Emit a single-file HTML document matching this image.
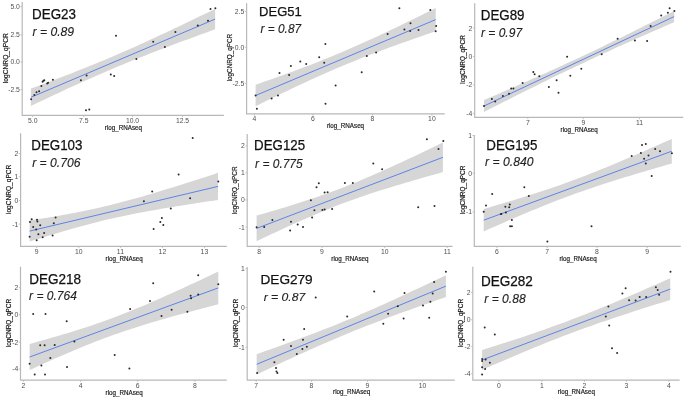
<!DOCTYPE html>
<html><head><meta charset="utf-8"><title>DEG scatter plots</title>
<style>
html,body{margin:0;padding:0;background:#fff;}
body{width:685px;height:397px;overflow:hidden;}
svg{display:block;filter:blur(0.3px);}
text{font-family:"Liberation Sans",sans-serif;}
.tk{font-size:6.8px;fill:#505050;}
.lb{font-size:6.4px;fill:#1a1a1a;stroke:#1a1a1a;stroke-width:0.18px;}
.tt{font-size:13.6px;fill:#111111;stroke:#111111;stroke-width:0.25px;}
.rr{font-size:12.2px;fill:#222222;font-style:italic;stroke:#222222;stroke-width:0.12px;}
circle{fill:#2a2a2a;}
</style></head>
<body><svg width="685" height="397" viewBox="0 0 685 397">
<rect width="685" height="397" fill="#fff"/>
<path d="M30.9,88.6 L35.5,86.9 L40.11,85.19 L44.71,83.47 L49.32,81.74 L53.92,80 L58.53,78.25 L63.13,76.49 L67.74,74.71 L72.34,72.92 L76.95,71.12 L81.55,69.29 L86.16,67.45 L90.76,65.6 L95.37,63.72 L99.97,61.82 L104.58,59.9 L109.19,57.96 L113.79,56 L118.39,54.02 L123,52.02 L127.6,50 L132.21,47.96 L136.81,45.9 L141.42,43.82 L146.03,41.72 L150.63,39.61 L155.23,37.48 L159.84,35.34 L164.44,33.19 L169.05,31.02 L173.66,28.85 L178.26,26.66 L182.86,24.46 L187.47,22.26 L192.08,20.05 L196.68,17.83 L201.28,15.61 L205.89,13.38 L210.49,11.14 L215.1,8.9 L215.1,29.3 L210.49,30.97 L205.89,32.64 L201.28,34.32 L196.68,36.01 L192.08,37.7 L187.47,39.4 L182.86,41.11 L178.26,42.82 L173.66,44.54 L169.05,46.28 L164.44,48.02 L159.84,49.78 L155.23,51.55 L150.63,53.33 L146.03,55.13 L141.42,56.94 L136.81,58.77 L132.21,60.62 L127.6,62.49 L123,64.38 L118.39,66.29 L113.79,68.22 L109.19,70.17 L104.58,72.14 L99.97,74.13 L95.37,76.14 L90.76,78.17 L86.16,80.23 L81.55,82.3 L76.95,84.38 L72.34,86.49 L67.74,88.61 L63.13,90.74 L58.53,92.89 L53.92,95.05 L49.32,97.22 L44.71,99.4 L40.11,101.59 L35.5,103.79 L30.9,106Z" fill="#d6d6d6"/>
<line x1="30.9" y1="97.3" x2="215.1" y2="19.1" stroke="#3f6fee" stroke-width="0.8"/>
<path d="M22.2,2 V115.3 H223.9" fill="none" stroke="#b8b8b8" stroke-width="1.2"/>
<line x1="20.4" y1="6.6" x2="22.2" y2="6.6" stroke="#b8b8b8" stroke-width="0.8"/>
<text x="19.9" y="9.05" text-anchor="end" class="tk">5.0</text>
<line x1="20.4" y1="35" x2="22.2" y2="35" stroke="#b8b8b8" stroke-width="0.8"/>
<text x="19.9" y="37.45" text-anchor="end" class="tk">2.5</text>
<line x1="20.4" y1="62" x2="22.2" y2="62" stroke="#b8b8b8" stroke-width="0.8"/>
<text x="19.9" y="64.45" text-anchor="end" class="tk">0.0</text>
<line x1="20.4" y1="89.6" x2="22.2" y2="89.6" stroke="#b8b8b8" stroke-width="0.8"/>
<text x="19.9" y="92.05" text-anchor="end" class="tk">-2.5</text>
<line x1="32.7" y1="115.3" x2="32.7" y2="117.1" stroke="#b8b8b8" stroke-width="0.8"/>
<text x="32.7" y="122.9" text-anchor="middle" class="tk">5.0</text>
<line x1="83.7" y1="115.3" x2="83.7" y2="117.1" stroke="#b8b8b8" stroke-width="0.8"/>
<text x="83.7" y="122.9" text-anchor="middle" class="tk">7.5</text>
<line x1="132.5" y1="115.3" x2="132.5" y2="117.1" stroke="#b8b8b8" stroke-width="0.8"/>
<text x="132.5" y="122.9" text-anchor="middle" class="tk">10.0</text>
<line x1="182.5" y1="115.3" x2="182.5" y2="117.1" stroke="#b8b8b8" stroke-width="0.8"/>
<text x="182.5" y="122.9" text-anchor="middle" class="tk">12.5</text>
<circle cx="31.1" cy="99.3" r="1.0"/>
<circle cx="34.4" cy="94.9" r="1.0"/>
<circle cx="36.5" cy="92.2" r="1.0"/>
<circle cx="39.1" cy="91.3" r="1.0"/>
<circle cx="41.4" cy="85.9" r="1.0"/>
<circle cx="42.6" cy="81.7" r="1.0"/>
<circle cx="43.5" cy="80.8" r="1.0"/>
<circle cx="44.3" cy="80.2" r="1.0"/>
<circle cx="47.2" cy="83.6" r="1.0"/>
<circle cx="48.1" cy="82.7" r="1.0"/>
<circle cx="52.9" cy="79.8" r="1.0"/>
<circle cx="80.9" cy="80.2" r="1.0"/>
<circle cx="86.6" cy="75.4" r="1.0"/>
<circle cx="86" cy="110.2" r="1.0"/>
<circle cx="89.3" cy="109.5" r="1.0"/>
<circle cx="110.8" cy="74.5" r="1.0"/>
<circle cx="114.2" cy="75.9" r="1.0"/>
<circle cx="116" cy="35.7" r="1.0"/>
<circle cx="136.4" cy="59" r="1.0"/>
<circle cx="153.2" cy="41.8" r="1.0"/>
<circle cx="164.9" cy="46.9" r="1.0"/>
<circle cx="175.4" cy="32" r="1.0"/>
<circle cx="197.8" cy="25.5" r="1.0"/>
<circle cx="208" cy="20.8" r="1.0"/>
<circle cx="210.5" cy="9.1" r="1.0"/>
<circle cx="215.4" cy="8.2" r="1.0"/>
<text x="142" y="130" text-anchor="end" class="lb" textLength="37.2" lengthAdjust="spacingAndGlyphs">rlog_RNAseq</text>
<text transform="translate(7.6,58.2) rotate(-90)" text-anchor="middle" class="lb" textLength="50" lengthAdjust="spacingAndGlyphs">logCNRQ_qPCR</text>
<text x="32.07" y="19.15" class="tt" style="font-size:14.17px" textLength="43.9" lengthAdjust="spacingAndGlyphs">DEG23</text>
<text x="32.6" y="35.5" class="rr" style="font-size:12.2px" textLength="41.5" lengthAdjust="spacingAndGlyphs">r = 0.89</text>
<path d="M255.6,84.75 L260.1,83.18 L264.61,81.6 L269.11,80.01 L273.61,78.41 L278.11,76.8 L282.62,75.18 L287.12,73.55 L291.62,71.9 L296.12,70.24 L300.62,68.56 L305.13,66.86 L309.63,65.14 L314.13,63.4 L318.63,61.64 L323.14,59.85 L327.64,58.04 L332.14,56.2 L336.64,54.34 L341.15,52.45 L345.65,50.53 L350.15,48.58 L354.65,46.61 L359.16,44.62 L363.66,42.6 L368.16,40.55 L372.66,38.49 L377.17,36.4 L381.67,34.29 L386.17,32.17 L390.67,30.03 L395.18,27.88 L399.68,25.71 L404.18,23.53 L408.68,21.34 L413.19,19.14 L417.69,16.92 L422.19,14.7 L426.69,12.48 L431.2,10.24 L435.7,8 L435.7,31.2 L431.2,32.75 L426.69,34.31 L422.19,35.88 L417.69,37.46 L413.19,39.04 L408.68,40.63 L404.18,42.24 L399.68,43.85 L395.18,45.48 L390.67,47.12 L386.17,48.77 L381.67,50.45 L377.17,52.14 L372.66,53.84 L368.16,55.57 L363.66,57.32 L359.16,59.1 L354.65,60.9 L350.15,62.72 L345.65,64.57 L341.15,66.45 L336.64,68.35 L332.14,70.28 L327.64,72.24 L323.14,74.22 L318.63,76.23 L314.13,78.27 L309.63,80.32 L305.13,82.4 L300.62,84.49 L296.12,86.61 L291.62,88.74 L287.12,90.89 L282.62,93.05 L278.11,95.22 L273.61,97.41 L269.11,99.6 L264.61,101.81 L260.1,104.03 L255.6,106.25Z" fill="#d6d6d6"/>
<line x1="255.6" y1="95.5" x2="435.7" y2="19.6" stroke="#3f6fee" stroke-width="0.8"/>
<path d="M246.6,3.2 V113.8 H444.8" fill="none" stroke="#b8b8b8" stroke-width="1.2"/>
<line x1="244.8" y1="11.5" x2="246.6" y2="11.5" stroke="#b8b8b8" stroke-width="0.8"/>
<text x="244.3" y="13.95" text-anchor="end" class="tk">2.5</text>
<line x1="244.8" y1="47.3" x2="246.6" y2="47.3" stroke="#b8b8b8" stroke-width="0.8"/>
<text x="244.3" y="49.75" text-anchor="end" class="tk">0.0</text>
<line x1="244.8" y1="83.6" x2="246.6" y2="83.6" stroke="#b8b8b8" stroke-width="0.8"/>
<text x="244.3" y="86.05" text-anchor="end" class="tk">-2.5</text>
<line x1="254.3" y1="113.8" x2="254.3" y2="115.6" stroke="#b8b8b8" stroke-width="0.8"/>
<text x="254.3" y="121.4" text-anchor="middle" class="tk">4</text>
<line x1="313" y1="113.8" x2="313" y2="115.6" stroke="#b8b8b8" stroke-width="0.8"/>
<text x="313" y="121.4" text-anchor="middle" class="tk">6</text>
<line x1="372.5" y1="113.8" x2="372.5" y2="115.6" stroke="#b8b8b8" stroke-width="0.8"/>
<text x="372.5" y="121.4" text-anchor="middle" class="tk">8</text>
<line x1="431.9" y1="113.8" x2="431.9" y2="115.6" stroke="#b8b8b8" stroke-width="0.8"/>
<text x="431.9" y="121.4" text-anchor="middle" class="tk">10</text>
<circle cx="256.9" cy="108.8" r="1.0"/>
<circle cx="255.6" cy="95.5" r="1.0"/>
<circle cx="271.6" cy="98.6" r="1.0"/>
<circle cx="278" cy="95.5" r="1.0"/>
<circle cx="279.5" cy="72.9" r="1.0"/>
<circle cx="289.1" cy="75.1" r="1.0"/>
<circle cx="290.9" cy="66.1" r="1.0"/>
<circle cx="300.3" cy="61.5" r="1.0"/>
<circle cx="306.2" cy="64" r="1.0"/>
<circle cx="319.2" cy="57.3" r="1.0"/>
<circle cx="324.2" cy="62.8" r="1.0"/>
<circle cx="325.4" cy="44.1" r="1.0"/>
<circle cx="325.5" cy="103.8" r="1.0"/>
<circle cx="335.6" cy="85.4" r="1.0"/>
<circle cx="361.7" cy="72.3" r="1.0"/>
<circle cx="366.8" cy="56.1" r="1.0"/>
<circle cx="376.1" cy="52.4" r="1.0"/>
<circle cx="387.6" cy="34" r="1.0"/>
<circle cx="399.4" cy="8.3" r="1.0"/>
<circle cx="404.4" cy="29.4" r="1.0"/>
<circle cx="410.2" cy="30.9" r="1.0"/>
<circle cx="410.5" cy="23.3" r="1.0"/>
<circle cx="418.5" cy="30" r="1.0"/>
<circle cx="430.3" cy="10" r="1.0"/>
<circle cx="436.1" cy="26.1" r="1.0"/>
<circle cx="435.7" cy="31.2" r="1.0"/>
<text x="364.1" y="128.2" text-anchor="end" class="lb" textLength="37.2" lengthAdjust="spacingAndGlyphs">rlog_RNAseq</text>
<text transform="translate(232.2,57.65) rotate(-90)" text-anchor="middle" class="lb" textLength="47.3" lengthAdjust="spacingAndGlyphs">logCNRQ_qPCR</text>
<text x="259.1" y="16.35" class="tt" style="font-size:13.6px" textLength="42.6" lengthAdjust="spacingAndGlyphs">DEG51</text>
<text x="260.5" y="32.5" class="rr" style="font-size:12.34px" textLength="40.6" lengthAdjust="spacingAndGlyphs">r = 0.87</text>
<path d="M484,100.1 L488.75,98.04 L493.5,95.98 L498.26,93.91 L503.01,91.84 L507.76,89.77 L512.51,87.69 L517.27,85.6 L522.02,83.51 L526.77,81.41 L531.52,79.3 L536.28,77.19 L541.03,75.07 L545.78,72.94 L550.53,70.8 L555.29,68.64 L560.04,66.48 L564.79,64.3 L569.54,62.11 L574.3,59.91 L579.05,57.69 L583.8,55.46 L588.56,53.22 L593.31,50.96 L598.06,48.69 L602.81,46.41 L607.57,44.11 L612.32,41.8 L617.07,39.48 L621.82,37.15 L626.58,34.81 L631.33,32.46 L636.08,30.1 L640.83,27.73 L645.59,25.36 L650.34,22.98 L655.09,20.59 L659.84,18.2 L664.6,15.81 L669.35,13.4 L674.1,11 L674.1,22.2 L669.35,24.27 L664.6,26.33 L659.84,28.41 L655.09,30.49 L650.34,32.57 L645.59,34.66 L640.83,36.76 L636.08,38.86 L631.33,40.97 L626.58,43.09 L621.82,45.22 L617.07,47.36 L612.32,49.51 L607.57,51.67 L602.81,53.84 L598.06,56.03 L593.31,58.23 L588.56,60.44 L583.8,62.67 L579.05,64.91 L574.3,67.16 L569.54,69.43 L564.79,71.71 L560.04,74 L555.29,76.31 L550.53,78.62 L545.78,80.95 L541.03,83.29 L536.28,85.64 L531.52,88 L526.77,90.36 L522.02,92.73 L517.27,95.11 L512.51,97.49 L507.76,99.88 L503.01,102.28 L498.26,104.68 L493.5,107.08 L488.75,109.49 L484,111.9Z" fill="#d6d6d6"/>
<line x1="484" y1="106" x2="674.1" y2="16.6" stroke="#3f6fee" stroke-width="0.8"/>
<path d="M474.7,3.2 V117.4 H683.2" fill="none" stroke="#b8b8b8" stroke-width="1.2"/>
<line x1="472.9" y1="28.1" x2="474.7" y2="28.1" stroke="#b8b8b8" stroke-width="0.8"/>
<text x="472.4" y="30.55" text-anchor="end" class="tk">2</text>
<line x1="472.9" y1="56.5" x2="474.7" y2="56.5" stroke="#b8b8b8" stroke-width="0.8"/>
<text x="472.4" y="58.95" text-anchor="end" class="tk">0</text>
<line x1="472.9" y1="84.9" x2="474.7" y2="84.9" stroke="#b8b8b8" stroke-width="0.8"/>
<text x="472.4" y="87.35" text-anchor="end" class="tk">-2</text>
<line x1="472.9" y1="113.4" x2="474.7" y2="113.4" stroke="#b8b8b8" stroke-width="0.8"/>
<text x="472.4" y="115.85" text-anchor="end" class="tk">-4</text>
<line x1="527.8" y1="117.4" x2="527.8" y2="119.2" stroke="#b8b8b8" stroke-width="0.8"/>
<text x="527.8" y="125" text-anchor="middle" class="tk">7</text>
<line x1="583.4" y1="117.4" x2="583.4" y2="119.2" stroke="#b8b8b8" stroke-width="0.8"/>
<text x="583.4" y="125" text-anchor="middle" class="tk">9</text>
<line x1="639.5" y1="117.4" x2="639.5" y2="119.2" stroke="#b8b8b8" stroke-width="0.8"/>
<text x="639.5" y="125" text-anchor="middle" class="tk">11</text>
<circle cx="484" cy="106" r="1.0"/>
<circle cx="491.9" cy="99" r="1.0"/>
<circle cx="495.2" cy="101.4" r="1.0"/>
<circle cx="502.9" cy="95.9" r="1.0"/>
<circle cx="509" cy="93.7" r="1.0"/>
<circle cx="511.2" cy="88.5" r="1.0"/>
<circle cx="513.4" cy="88.5" r="1.0"/>
<circle cx="522.6" cy="83" r="1.0"/>
<circle cx="533.3" cy="72" r="1.0"/>
<circle cx="534.6" cy="74.2" r="1.0"/>
<circle cx="539.3" cy="76.2" r="1.0"/>
<circle cx="548.9" cy="87" r="1.0"/>
<circle cx="556.6" cy="80.2" r="1.0"/>
<circle cx="558.5" cy="92.8" r="1.0"/>
<circle cx="567.1" cy="56.7" r="1.0"/>
<circle cx="570.3" cy="75.8" r="1.0"/>
<circle cx="581.3" cy="68.8" r="1.0"/>
<circle cx="601.7" cy="54.3" r="1.0"/>
<circle cx="617.6" cy="38.8" r="1.0"/>
<circle cx="634.9" cy="40.6" r="1.0"/>
<circle cx="647.1" cy="40.9" r="1.0"/>
<circle cx="650.6" cy="26.1" r="1.0"/>
<circle cx="661.2" cy="15.5" r="1.0"/>
<circle cx="667.9" cy="12.7" r="1.0"/>
<circle cx="669.6" cy="8.3" r="1.0"/>
<circle cx="674.4" cy="11.1" r="1.0"/>
<text x="597.8" y="131.6" text-anchor="end" class="lb" textLength="37.2" lengthAdjust="spacingAndGlyphs">rlog_RNAseq</text>
<text transform="translate(465.2,59.4) rotate(-90)" text-anchor="middle" class="lb" textLength="48.6" lengthAdjust="spacingAndGlyphs">logCNRQ_qPCR</text>
<text x="480.75" y="20.45" class="tt" style="font-size:14.6px" textLength="43.8" lengthAdjust="spacingAndGlyphs">DEG89</text>
<text x="480.9" y="37" class="rr" style="font-size:12.63px" textLength="41.2" lengthAdjust="spacingAndGlyphs">r = 0.97</text>
<path d="M29.6,220.6 L34.31,219.85 L39.02,219.08 L43.73,218.3 L48.44,217.51 L53.15,216.71 L57.86,215.89 L62.57,215.05 L67.28,214.18 L71.99,213.3 L76.7,212.39 L81.41,211.46 L86.12,210.49 L90.83,209.5 L95.54,208.47 L100.25,207.41 L104.96,206.32 L109.67,205.19 L114.38,204.03 L119.09,202.83 L123.8,201.6 L128.51,200.34 L133.22,199.05 L137.93,197.73 L142.64,196.39 L147.35,195.02 L152.06,193.63 L156.77,192.23 L161.48,190.8 L166.19,189.36 L170.9,187.91 L175.61,186.44 L180.32,184.97 L185.03,183.48 L189.74,181.98 L194.45,180.48 L199.16,178.96 L203.87,177.44 L208.58,175.92 L213.29,174.39 L218,172.85 L218,199.95 L213.29,200.65 L208.58,201.35 L203.87,202.06 L199.16,202.78 L194.45,203.5 L189.74,204.23 L185.03,204.97 L180.32,205.71 L175.61,206.47 L170.9,207.24 L166.19,208.02 L161.48,208.82 L156.77,209.63 L152.06,210.46 L147.35,211.3 L142.64,212.17 L137.93,213.06 L133.22,213.98 L128.51,214.93 L123.8,215.9 L119.09,216.9 L114.38,217.94 L109.67,219.01 L104.96,220.12 L100.25,221.26 L95.54,222.44 L90.83,223.64 L86.12,224.89 L81.41,226.16 L76.7,227.46 L71.99,228.78 L67.28,230.14 L62.57,231.51 L57.86,232.9 L53.15,234.32 L48.44,235.75 L43.73,237.19 L39.02,238.65 L34.31,240.12 L29.6,241.6Z" fill="#d6d6d6"/>
<line x1="29.6" y1="231.1" x2="218" y2="186.4" stroke="#3f6fee" stroke-width="0.8"/>
<path d="M20.6,133.2 V246.3 H226.8" fill="none" stroke="#b8b8b8" stroke-width="1.2"/>
<line x1="18.8" y1="153.5" x2="20.6" y2="153.5" stroke="#b8b8b8" stroke-width="0.8"/>
<text x="18.3" y="155.95" text-anchor="end" class="tk">2</text>
<line x1="18.8" y1="176.7" x2="20.6" y2="176.7" stroke="#b8b8b8" stroke-width="0.8"/>
<text x="18.3" y="179.15" text-anchor="end" class="tk">1</text>
<line x1="18.8" y1="200.5" x2="20.6" y2="200.5" stroke="#b8b8b8" stroke-width="0.8"/>
<text x="18.3" y="202.95" text-anchor="end" class="tk">0</text>
<line x1="18.8" y1="224.1" x2="20.6" y2="224.1" stroke="#b8b8b8" stroke-width="0.8"/>
<text x="18.3" y="226.55" text-anchor="end" class="tk">-1</text>
<line x1="36.7" y1="246.3" x2="36.7" y2="248.1" stroke="#b8b8b8" stroke-width="0.8"/>
<text x="36.7" y="253.9" text-anchor="middle" class="tk">9</text>
<line x1="78.8" y1="246.3" x2="78.8" y2="248.1" stroke="#b8b8b8" stroke-width="0.8"/>
<text x="78.8" y="253.9" text-anchor="middle" class="tk">10</text>
<line x1="120.4" y1="246.3" x2="120.4" y2="248.1" stroke="#b8b8b8" stroke-width="0.8"/>
<text x="120.4" y="253.9" text-anchor="middle" class="tk">11</text>
<line x1="162.4" y1="246.3" x2="162.4" y2="248.1" stroke="#b8b8b8" stroke-width="0.8"/>
<text x="162.4" y="253.9" text-anchor="middle" class="tk">12</text>
<line x1="204.4" y1="246.3" x2="204.4" y2="248.1" stroke="#b8b8b8" stroke-width="0.8"/>
<text x="204.4" y="253.9" text-anchor="middle" class="tk">13</text>
<circle cx="30" cy="222" r="1.0"/>
<circle cx="31.7" cy="219.2" r="1.0"/>
<circle cx="29.6" cy="236.8" r="1.0"/>
<circle cx="33.2" cy="227.1" r="1.0"/>
<circle cx="36.2" cy="229.4" r="1.0"/>
<circle cx="36.7" cy="240.3" r="1.0"/>
<circle cx="37" cy="219.7" r="1.0"/>
<circle cx="37.4" cy="221.5" r="1.0"/>
<circle cx="38.4" cy="234.2" r="1.0"/>
<circle cx="40.2" cy="225.3" r="1.0"/>
<circle cx="42.7" cy="237.3" r="1.0"/>
<circle cx="44.1" cy="232.9" r="1.0"/>
<circle cx="52.6" cy="235.6" r="1.0"/>
<circle cx="53.8" cy="223.2" r="1.0"/>
<circle cx="55.6" cy="217.6" r="1.0"/>
<circle cx="143.9" cy="201.2" r="1.0"/>
<circle cx="152.2" cy="191.4" r="1.0"/>
<circle cx="153.6" cy="229" r="1.0"/>
<circle cx="160.3" cy="222" r="1.0"/>
<circle cx="161.9" cy="217.9" r="1.0"/>
<circle cx="163.3" cy="225" r="1.0"/>
<circle cx="170.8" cy="208.6" r="1.0"/>
<circle cx="178.6" cy="174.4" r="1.0"/>
<circle cx="190.1" cy="198.2" r="1.0"/>
<circle cx="192.7" cy="137.9" r="1.0"/>
<circle cx="218.3" cy="181.5" r="1.0"/>
<text x="142.8" y="260.8" text-anchor="end" class="lb" textLength="37.2" lengthAdjust="spacingAndGlyphs">rlog_RNAseq</text>
<text transform="translate(10.8,189.4) rotate(-90)" text-anchor="middle" class="lb" textLength="49.4" lengthAdjust="spacingAndGlyphs">logCNRQ_qPCR</text>
<text x="31.27" y="150.05" class="tt" style="font-size:14.17px" textLength="51.1" lengthAdjust="spacingAndGlyphs">DEG103</text>
<text x="32.2" y="166.6" class="rr" style="font-size:12.48px" textLength="48.3" lengthAdjust="spacingAndGlyphs">r = 0.706</text>
<path d="M256.6,215.6 L261.26,214.26 L265.92,212.91 L270.57,211.55 L275.23,210.18 L279.89,208.79 L284.55,207.39 L289.2,205.97 L293.86,204.52 L298.52,203.06 L303.18,201.57 L307.83,200.05 L312.49,198.51 L317.15,196.93 L321.81,195.32 L326.46,193.68 L331.12,191.99 L335.78,190.27 L340.44,188.5 L345.09,186.7 L349.75,184.86 L354.41,182.97 L359.06,181.05 L363.72,179.1 L368.38,177.11 L373.04,175.09 L377.69,173.04 L382.35,170.96 L387.01,168.87 L391.67,166.75 L396.32,164.61 L400.98,162.45 L405.64,160.28 L410.3,158.09 L414.95,155.89 L419.61,153.68 L424.27,151.46 L428.93,149.23 L433.58,147 L438.24,144.75 L442.9,142.5 L442.9,172.1 L438.24,173.4 L433.58,174.71 L428.93,176.03 L424.27,177.36 L419.61,178.69 L414.95,180.04 L410.3,181.39 L405.64,182.76 L400.98,184.14 L396.32,185.54 L391.67,186.96 L387.01,188.39 L382.35,189.85 L377.69,191.33 L373.04,192.84 L368.38,194.37 L363.72,195.94 L359.06,197.54 L354.41,199.17 L349.75,200.84 L345.09,202.55 L340.44,204.31 L335.78,206.1 L331.12,207.93 L326.46,209.8 L321.81,211.71 L317.15,213.65 L312.49,215.63 L307.83,217.64 L303.18,219.68 L298.52,221.75 L293.86,223.84 L289.2,225.95 L284.55,228.08 L279.89,230.23 L275.23,232.4 L270.57,234.58 L265.92,236.78 L261.26,238.98 L256.6,241.2Z" fill="#d6d6d6"/>
<line x1="256.6" y1="228.4" x2="442.9" y2="157.3" stroke="#3f6fee" stroke-width="0.8"/>
<path d="M247.2,133.9 V246.3 H452.5" fill="none" stroke="#b8b8b8" stroke-width="1.2"/>
<line x1="245.4" y1="145.9" x2="247.2" y2="145.9" stroke="#b8b8b8" stroke-width="0.8"/>
<text x="244.9" y="148.35" text-anchor="end" class="tk">2</text>
<line x1="245.4" y1="172.8" x2="247.2" y2="172.8" stroke="#b8b8b8" stroke-width="0.8"/>
<text x="244.9" y="175.25" text-anchor="end" class="tk">1</text>
<line x1="245.4" y1="199.9" x2="247.2" y2="199.9" stroke="#b8b8b8" stroke-width="0.8"/>
<text x="244.9" y="202.35" text-anchor="end" class="tk">0</text>
<line x1="245.4" y1="227.1" x2="247.2" y2="227.1" stroke="#b8b8b8" stroke-width="0.8"/>
<text x="244.9" y="229.55" text-anchor="end" class="tk">-1</text>
<line x1="259.2" y1="246.3" x2="259.2" y2="248.1" stroke="#b8b8b8" stroke-width="0.8"/>
<text x="259.2" y="253.9" text-anchor="middle" class="tk">8</text>
<line x1="322" y1="246.3" x2="322" y2="248.1" stroke="#b8b8b8" stroke-width="0.8"/>
<text x="322" y="253.9" text-anchor="middle" class="tk">9</text>
<line x1="384.7" y1="246.3" x2="384.7" y2="248.1" stroke="#b8b8b8" stroke-width="0.8"/>
<text x="384.7" y="253.9" text-anchor="middle" class="tk">10</text>
<line x1="447.2" y1="246.3" x2="447.2" y2="248.1" stroke="#b8b8b8" stroke-width="0.8"/>
<text x="447.2" y="253.9" text-anchor="middle" class="tk">11</text>
<circle cx="256.6" cy="227.3" r="1.0"/>
<circle cx="264.2" cy="227.1" r="1.0"/>
<circle cx="272.4" cy="220" r="1.0"/>
<circle cx="290.1" cy="230.6" r="1.0"/>
<circle cx="291" cy="221.8" r="1.0"/>
<circle cx="297.7" cy="224.5" r="1.0"/>
<circle cx="303" cy="227.1" r="1.0"/>
<circle cx="310.9" cy="200.3" r="1.0"/>
<circle cx="312.1" cy="217.4" r="1.0"/>
<circle cx="314.4" cy="210.3" r="1.0"/>
<circle cx="316.5" cy="187.3" r="1.0"/>
<circle cx="318.8" cy="183.3" r="1.0"/>
<circle cx="322.4" cy="210" r="1.0"/>
<circle cx="324.6" cy="209.5" r="1.0"/>
<circle cx="324.6" cy="192.6" r="1.0"/>
<circle cx="327.6" cy="192.3" r="1.0"/>
<circle cx="332.1" cy="209.1" r="1.0"/>
<circle cx="344.9" cy="182.9" r="1.0"/>
<circle cx="352.8" cy="182.9" r="1.0"/>
<circle cx="373.3" cy="163.5" r="1.0"/>
<circle cx="382.1" cy="169.3" r="1.0"/>
<circle cx="418.2" cy="207.3" r="1.0"/>
<circle cx="426.9" cy="139.2" r="1.0"/>
<circle cx="434.5" cy="205.9" r="1.0"/>
<circle cx="438.5" cy="148.9" r="1.0"/>
<circle cx="443.3" cy="140.9" r="1.0"/>
<text x="368.5" y="260.8" text-anchor="end" class="lb" textLength="37.2" lengthAdjust="spacingAndGlyphs">rlog_RNAseq</text>
<text transform="translate(236.8,190.3) rotate(-90)" text-anchor="middle" class="lb" textLength="47.6" lengthAdjust="spacingAndGlyphs">logCNRQ_qPCR</text>
<text x="254.07" y="149.85" class="tt" style="font-size:14.17px" textLength="51" lengthAdjust="spacingAndGlyphs">DEG125</text>
<text x="255.1" y="167.5" class="rr" style="font-size:12.2px" textLength="47.6" lengthAdjust="spacingAndGlyphs">r = 0.775</text>
<path d="M483.7,209 L488.4,207.63 L493.1,206.26 L497.81,204.87 L502.51,203.47 L507.21,202.07 L511.91,200.65 L516.62,199.21 L521.32,197.76 L526.02,196.29 L530.73,194.81 L535.43,193.3 L540.13,191.77 L544.83,190.22 L549.53,188.64 L554.24,187.04 L558.94,185.4 L563.64,183.74 L568.35,182.05 L573.05,180.32 L577.75,178.57 L582.45,176.78 L587.15,174.97 L591.86,173.12 L596.56,171.25 L601.26,169.36 L605.96,167.44 L610.67,165.49 L615.37,163.53 L620.07,161.55 L624.77,159.55 L629.48,157.53 L634.18,155.51 L638.88,153.46 L643.58,151.41 L648.29,149.35 L652.99,147.27 L657.69,145.19 L662.39,143.1 L667.1,141 L671.8,138.9 L671.8,163.5 L667.1,164.85 L662.39,166.2 L657.69,167.56 L652.99,168.93 L648.29,170.3 L643.58,171.69 L638.88,173.09 L634.18,174.49 L629.48,175.92 L624.77,177.35 L620.07,178.8 L615.37,180.27 L610.67,181.76 L605.96,183.26 L601.26,184.79 L596.56,186.35 L591.86,187.93 L587.15,189.53 L582.45,191.17 L577.75,192.83 L573.05,194.53 L568.35,196.25 L563.64,198.01 L558.94,199.8 L554.24,201.61 L549.53,203.46 L544.83,205.33 L540.13,207.23 L535.43,209.15 L530.73,211.09 L526.02,213.06 L521.32,215.04 L516.62,217.04 L511.91,219.05 L507.21,221.08 L502.51,223.13 L497.81,225.18 L493.1,227.24 L488.4,229.32 L483.7,231.4Z" fill="#d6d6d6"/>
<line x1="483.7" y1="220.2" x2="671.8" y2="151.2" stroke="#3f6fee" stroke-width="0.8"/>
<path d="M474.3,134.9 V246.3 H680.8" fill="none" stroke="#b8b8b8" stroke-width="1.2"/>
<line x1="472.5" y1="135.5" x2="474.3" y2="135.5" stroke="#b8b8b8" stroke-width="0.8"/>
<text x="472" y="137.95" text-anchor="end" class="tk">1</text>
<line x1="472.5" y1="173.2" x2="474.3" y2="173.2" stroke="#b8b8b8" stroke-width="0.8"/>
<text x="472" y="175.65" text-anchor="end" class="tk">0</text>
<line x1="472.5" y1="212" x2="474.3" y2="212" stroke="#b8b8b8" stroke-width="0.8"/>
<text x="472" y="214.45" text-anchor="end" class="tk">-1</text>
<line x1="496.9" y1="246.3" x2="496.9" y2="248.1" stroke="#b8b8b8" stroke-width="0.8"/>
<text x="496.9" y="253.9" text-anchor="middle" class="tk">6</text>
<line x1="547.2" y1="246.3" x2="547.2" y2="248.1" stroke="#b8b8b8" stroke-width="0.8"/>
<text x="547.2" y="253.9" text-anchor="middle" class="tk">7</text>
<line x1="597" y1="246.3" x2="597" y2="248.1" stroke="#b8b8b8" stroke-width="0.8"/>
<text x="597" y="253.9" text-anchor="middle" class="tk">8</text>
<line x1="647.2" y1="246.3" x2="647.2" y2="248.1" stroke="#b8b8b8" stroke-width="0.8"/>
<text x="647.2" y="253.9" text-anchor="middle" class="tk">9</text>
<circle cx="483.7" cy="211.8" r="1.0"/>
<circle cx="486" cy="205.6" r="1.0"/>
<circle cx="492.2" cy="194" r="1.0"/>
<circle cx="501" cy="213.9" r="1.0"/>
<circle cx="505.4" cy="206.8" r="1.0"/>
<circle cx="505.9" cy="212.6" r="1.0"/>
<circle cx="509.8" cy="204.6" r="1.0"/>
<circle cx="509.2" cy="207.2" r="1.0"/>
<circle cx="501.3" cy="214" r="1.0"/>
<circle cx="510.1" cy="226.2" r="1.0"/>
<circle cx="511.9" cy="226.2" r="1.0"/>
<circle cx="511.9" cy="220" r="1.0"/>
<circle cx="524.3" cy="187.3" r="1.0"/>
<circle cx="528.8" cy="196.1" r="1.0"/>
<circle cx="547.4" cy="241.4" r="1.0"/>
<circle cx="591.5" cy="226.2" r="1.0"/>
<circle cx="631.7" cy="156.1" r="1.0"/>
<circle cx="640.9" cy="152.9" r="1.0"/>
<circle cx="642" cy="145" r="1.0"/>
<circle cx="644.1" cy="158.7" r="1.0"/>
<circle cx="645.8" cy="144.1" r="1.0"/>
<circle cx="645.8" cy="163.5" r="1.0"/>
<circle cx="648.5" cy="155.6" r="1.0"/>
<circle cx="651.7" cy="175.9" r="1.0"/>
<circle cx="655.2" cy="149" r="1.0"/>
<circle cx="660" cy="151.2" r="1.0"/>
<circle cx="671.9" cy="153.3" r="1.0"/>
<text x="596.7" y="260.8" text-anchor="end" class="lb" textLength="37.2" lengthAdjust="spacingAndGlyphs">rlog_RNAseq</text>
<text transform="translate(464.6,189.85) rotate(-90)" text-anchor="middle" class="lb" textLength="48.5" lengthAdjust="spacingAndGlyphs">logCNRQ_qPCR</text>
<text x="486.27" y="149.85" class="tt" style="font-size:14.17px" textLength="51.1" lengthAdjust="spacingAndGlyphs">DEG195</text>
<text x="485" y="165.8" class="rr" style="font-size:11.92px" textLength="48.5" lengthAdjust="spacingAndGlyphs">r = 0.840</text>
<path d="M29.6,343.95 L34.32,342.66 L39.04,341.36 L43.75,340.04 L48.47,338.71 L53.19,337.36 L57.91,335.99 L62.62,334.6 L67.34,333.19 L72.06,331.75 L76.78,330.28 L81.49,328.78 L86.21,327.25 L90.93,325.68 L95.65,324.08 L100.36,322.44 L105.08,320.75 L109.8,319.03 L114.52,317.26 L119.23,315.46 L123.95,313.62 L128.67,311.74 L133.39,309.82 L138.1,307.87 L142.82,305.89 L147.54,303.88 L152.26,301.84 L156.97,299.78 L161.69,297.7 L166.41,295.6 L171.13,293.48 L175.84,291.34 L180.56,289.19 L185.28,287.02 L190,284.85 L194.71,282.66 L199.43,280.47 L204.15,278.26 L208.87,276.05 L213.58,273.83 L218.3,271.6 L218.3,304.2 L213.58,305.43 L208.87,306.66 L204.15,307.9 L199.43,309.15 L194.71,310.41 L190,311.68 L185.28,312.96 L180.56,314.25 L175.84,315.56 L171.13,316.87 L166.41,318.21 L161.69,319.56 L156.97,320.93 L152.26,322.33 L147.54,323.75 L142.82,325.19 L138.1,326.67 L133.39,328.17 L128.67,329.71 L123.95,331.28 L119.23,332.89 L114.52,334.55 L109.8,336.24 L105.08,337.97 L100.36,339.74 L95.65,341.55 L90.93,343.4 L86.21,345.29 L81.49,347.21 L76.78,349.17 L72.06,351.15 L67.34,353.17 L62.62,355.21 L57.91,357.28 L53.19,359.36 L48.47,361.47 L43.75,363.59 L39.04,365.73 L34.32,367.88 L29.6,370.05Z" fill="#d6d6d6"/>
<line x1="29.6" y1="357" x2="218.3" y2="287.9" stroke="#3f6fee" stroke-width="0.8"/>
<path d="M20.5,266.7 V380.1 H226.8" fill="none" stroke="#b8b8b8" stroke-width="1.2"/>
<line x1="18.7" y1="287.7" x2="20.5" y2="287.7" stroke="#b8b8b8" stroke-width="0.8"/>
<text x="18.2" y="290.15" text-anchor="end" class="tk">2</text>
<line x1="18.7" y1="314.7" x2="20.5" y2="314.7" stroke="#b8b8b8" stroke-width="0.8"/>
<text x="18.2" y="317.15" text-anchor="end" class="tk">0</text>
<line x1="18.7" y1="342.3" x2="20.5" y2="342.3" stroke="#b8b8b8" stroke-width="0.8"/>
<text x="18.2" y="344.75" text-anchor="end" class="tk">-2</text>
<line x1="18.7" y1="369" x2="20.5" y2="369" stroke="#b8b8b8" stroke-width="0.8"/>
<text x="18.2" y="371.45" text-anchor="end" class="tk">-4</text>
<line x1="23.5" y1="380.1" x2="23.5" y2="381.9" stroke="#b8b8b8" stroke-width="0.8"/>
<text x="23.5" y="387.7" text-anchor="middle" class="tk">2</text>
<line x1="80.6" y1="380.1" x2="80.6" y2="381.9" stroke="#b8b8b8" stroke-width="0.8"/>
<text x="80.6" y="387.7" text-anchor="middle" class="tk">4</text>
<line x1="137.7" y1="380.1" x2="137.7" y2="381.9" stroke="#b8b8b8" stroke-width="0.8"/>
<text x="137.7" y="387.7" text-anchor="middle" class="tk">6</text>
<line x1="195" y1="380.1" x2="195" y2="381.9" stroke="#b8b8b8" stroke-width="0.8"/>
<text x="195" y="387.7" text-anchor="middle" class="tk">8</text>
<circle cx="29.6" cy="363.7" r="1.0"/>
<circle cx="33.2" cy="314.1" r="1.0"/>
<circle cx="34.7" cy="374.6" r="1.0"/>
<circle cx="40.2" cy="345.2" r="1.0"/>
<circle cx="41.4" cy="365.4" r="1.0"/>
<circle cx="44.6" cy="345.2" r="1.0"/>
<circle cx="45" cy="374.6" r="1.0"/>
<circle cx="45.5" cy="314.1" r="1.0"/>
<circle cx="50.3" cy="357.9" r="1.0"/>
<circle cx="54.7" cy="345" r="1.0"/>
<circle cx="66.7" cy="321.2" r="1.0"/>
<circle cx="67" cy="367" r="1.0"/>
<circle cx="74.4" cy="341.6" r="1.0"/>
<circle cx="114.7" cy="354.9" r="1.0"/>
<circle cx="129.4" cy="368.4" r="1.0"/>
<circle cx="130.1" cy="309" r="1.0"/>
<circle cx="150" cy="300.9" r="1.0"/>
<circle cx="153.2" cy="283.3" r="1.0"/>
<circle cx="161.5" cy="316.1" r="1.0"/>
<circle cx="171.6" cy="309.7" r="1.0"/>
<circle cx="187.4" cy="311.7" r="1.0"/>
<circle cx="190.6" cy="295.8" r="1.0"/>
<circle cx="191.1" cy="298.3" r="1.0"/>
<circle cx="198.2" cy="294.4" r="1.0"/>
<circle cx="198.2" cy="275.3" r="1.0"/>
<circle cx="218.3" cy="284.2" r="1.0"/>
<text x="142.8" y="394.6" text-anchor="end" class="lb" textLength="37.2" lengthAdjust="spacingAndGlyphs">rlog_RNAseq</text>
<text transform="translate(11,323.05) rotate(-90)" text-anchor="middle" class="lb" textLength="48.5" lengthAdjust="spacingAndGlyphs">logCNRQ_qPCR</text>
<text x="29.27" y="283.65" class="tt" style="font-size:14.17px" textLength="51.8" lengthAdjust="spacingAndGlyphs">DEG218</text>
<text x="29.1" y="299.6" class="rr" style="font-size:12.34px" textLength="47.8" lengthAdjust="spacingAndGlyphs">r = 0.764</text>
<path d="M256.7,354.15 L261.43,352.49 L266.16,350.82 L270.89,349.15 L275.62,347.46 L280.35,345.77 L285.08,344.06 L289.81,342.34 L294.54,340.61 L299.27,338.86 L304,337.1 L308.73,335.32 L313.46,333.52 L318.19,331.71 L322.92,329.87 L327.65,328.01 L332.38,326.13 L337.11,324.23 L341.84,322.3 L346.57,320.35 L351.3,318.38 L356.03,316.38 L360.76,314.36 L365.49,312.32 L370.22,310.25 L374.95,308.17 L379.68,306.06 L384.41,303.94 L389.14,301.8 L393.87,299.64 L398.6,297.47 L403.33,295.28 L408.06,293.08 L412.79,290.87 L417.52,288.65 L422.25,286.42 L426.98,284.18 L431.71,281.93 L436.44,279.68 L441.17,277.42 L445.9,275.15 L445.9,297.05 L441.17,298.69 L436.44,300.34 L431.71,302 L426.98,303.66 L422.25,305.33 L417.52,307.01 L412.79,308.7 L408.06,310.4 L403.33,312.11 L398.6,313.83 L393.87,315.57 L389.14,317.32 L384.41,319.09 L379.68,320.88 L374.95,322.68 L370.22,324.51 L365.49,326.35 L360.76,328.22 L356.03,330.11 L351.3,332.02 L346.57,333.96 L341.84,335.92 L337.11,337.9 L332.38,339.91 L327.65,341.94 L322.92,343.99 L318.19,346.06 L313.46,348.16 L308.73,350.27 L304,352.4 L299.27,354.55 L294.54,356.71 L289.81,358.89 L285.08,361.08 L280.35,363.28 L275.62,365.5 L270.89,367.72 L266.16,369.96 L261.43,372.2 L256.7,374.45Z" fill="#d6d6d6"/>
<line x1="256.7" y1="364.3" x2="445.9" y2="286.1" stroke="#3f6fee" stroke-width="0.8"/>
<path d="M247.2,267 V380.1 H454.8" fill="none" stroke="#b8b8b8" stroke-width="1.2"/>
<line x1="245.4" y1="268.8" x2="247.2" y2="268.8" stroke="#b8b8b8" stroke-width="0.8"/>
<text x="244.9" y="271.25" text-anchor="end" class="tk">1</text>
<line x1="245.4" y1="307.6" x2="247.2" y2="307.6" stroke="#b8b8b8" stroke-width="0.8"/>
<text x="244.9" y="310.05" text-anchor="end" class="tk">0</text>
<line x1="245.4" y1="347.3" x2="247.2" y2="347.3" stroke="#b8b8b8" stroke-width="0.8"/>
<text x="244.9" y="349.75" text-anchor="end" class="tk">-1</text>
<line x1="256.2" y1="380.1" x2="256.2" y2="381.9" stroke="#b8b8b8" stroke-width="0.8"/>
<text x="256.2" y="387.7" text-anchor="middle" class="tk">7</text>
<line x1="311.4" y1="380.1" x2="311.4" y2="381.9" stroke="#b8b8b8" stroke-width="0.8"/>
<text x="311.4" y="387.7" text-anchor="middle" class="tk">8</text>
<line x1="367.5" y1="380.1" x2="367.5" y2="381.9" stroke="#b8b8b8" stroke-width="0.8"/>
<text x="367.5" y="387.7" text-anchor="middle" class="tk">9</text>
<line x1="422.5" y1="380.1" x2="422.5" y2="381.9" stroke="#b8b8b8" stroke-width="0.8"/>
<text x="422.5" y="387.7" text-anchor="middle" class="tk">10</text>
<circle cx="257.1" cy="372.9" r="1.0"/>
<circle cx="274.4" cy="362.3" r="1.0"/>
<circle cx="276" cy="368.1" r="1.0"/>
<circle cx="276.5" cy="371.6" r="1.0"/>
<circle cx="277.4" cy="372.9" r="1.0"/>
<circle cx="283.6" cy="339.7" r="1.0"/>
<circle cx="291" cy="345.9" r="1.0"/>
<circle cx="296.8" cy="354" r="1.0"/>
<circle cx="302.4" cy="349" r="1.0"/>
<circle cx="303" cy="339.7" r="1.0"/>
<circle cx="304.2" cy="329" r="1.0"/>
<circle cx="306.8" cy="346.8" r="1.0"/>
<circle cx="315.7" cy="297.6" r="1.0"/>
<circle cx="347.2" cy="316.4" r="1.0"/>
<circle cx="374.2" cy="291.4" r="1.0"/>
<circle cx="383.3" cy="323.8" r="1.0"/>
<circle cx="388.1" cy="313.8" r="1.0"/>
<circle cx="397.8" cy="306.2" r="1.0"/>
<circle cx="403.6" cy="318.6" r="1.0"/>
<circle cx="404.5" cy="293" r="1.0"/>
<circle cx="423" cy="305.5" r="1.0"/>
<circle cx="429.2" cy="317.8" r="1.0"/>
<circle cx="430.4" cy="301.8" r="1.0"/>
<circle cx="432.7" cy="293.5" r="1.0"/>
<circle cx="434.1" cy="282" r="1.0"/>
<circle cx="445.9" cy="271.8" r="1.0"/>
<text x="370.3" y="394.3" text-anchor="end" class="lb" textLength="37.2" lengthAdjust="spacingAndGlyphs">rlog_RNAseq</text>
<text transform="translate(237.8,323.05) rotate(-90)" text-anchor="middle" class="lb" textLength="48.5" lengthAdjust="spacingAndGlyphs">logCNRQ_qPCR</text>
<text x="260.51" y="284.05" class="tt" style="font-size:13.46px" textLength="52.2" lengthAdjust="spacingAndGlyphs">DEG279</text>
<text x="263.7" y="300.6" class="rr" style="font-size:11.49px" textLength="41.6" lengthAdjust="spacingAndGlyphs">r = 0.87</text>
<path d="M482.1,350.1 L486.8,348.61 L491.5,347.12 L496.21,345.62 L500.91,344.11 L505.61,342.59 L510.32,341.06 L515.02,339.51 L519.72,337.95 L524.42,336.38 L529.12,334.79 L533.83,333.19 L538.53,331.56 L543.23,329.92 L547.94,328.26 L552.64,326.58 L557.34,324.87 L562.04,323.14 L566.75,321.39 L571.45,319.62 L576.15,317.82 L580.85,316 L585.56,314.16 L590.26,312.29 L594.96,310.41 L599.66,308.5 L604.37,306.58 L609.07,304.63 L613.77,302.67 L618.47,300.7 L623.18,298.71 L627.88,296.71 L632.58,294.69 L637.28,292.67 L641.99,290.63 L646.69,288.59 L651.39,286.53 L656.09,284.47 L660.8,282.41 L665.5,280.33 L670.2,278.25 L670.2,299.95 L665.5,301.41 L660.8,302.88 L656.09,304.36 L651.39,305.85 L646.69,307.34 L641.99,308.84 L637.28,310.35 L632.58,311.87 L627.88,313.4 L623.18,314.94 L618.47,316.5 L613.77,318.07 L609.07,319.65 L604.37,321.25 L599.66,322.87 L594.96,324.51 L590.26,326.17 L585.56,327.85 L580.85,329.55 L576.15,331.28 L571.45,333.03 L566.75,334.8 L562.04,336.59 L557.34,338.41 L552.64,340.25 L547.94,342.11 L543.23,343.99 L538.53,345.9 L533.83,347.82 L529.12,349.76 L524.42,351.71 L519.72,353.69 L515.02,355.67 L510.32,357.67 L505.61,359.69 L500.91,361.71 L496.21,363.74 L491.5,365.79 L486.8,367.84 L482.1,369.9Z" fill="#d6d6d6"/>
<line x1="482.1" y1="360" x2="670.2" y2="289.1" stroke="#3f6fee" stroke-width="0.8"/>
<path d="M472.8,266.7 V380.1 H679.7" fill="none" stroke="#b8b8b8" stroke-width="1.2"/>
<line x1="471" y1="292.4" x2="472.8" y2="292.4" stroke="#b8b8b8" stroke-width="0.8"/>
<text x="470.5" y="294.85" text-anchor="end" class="tk">2</text>
<line x1="471" y1="319.8" x2="472.8" y2="319.8" stroke="#b8b8b8" stroke-width="0.8"/>
<text x="470.5" y="322.25" text-anchor="end" class="tk">0</text>
<line x1="471" y1="346.7" x2="472.8" y2="346.7" stroke="#b8b8b8" stroke-width="0.8"/>
<text x="470.5" y="349.15" text-anchor="end" class="tk">-2</text>
<line x1="471" y1="373.7" x2="472.8" y2="373.7" stroke="#b8b8b8" stroke-width="0.8"/>
<text x="470.5" y="376.15" text-anchor="end" class="tk">-4</text>
<line x1="498.9" y1="380.1" x2="498.9" y2="381.9" stroke="#b8b8b8" stroke-width="0.8"/>
<text x="498.9" y="387.7" text-anchor="middle" class="tk">0</text>
<line x1="541.9" y1="380.1" x2="541.9" y2="381.9" stroke="#b8b8b8" stroke-width="0.8"/>
<text x="541.9" y="387.7" text-anchor="middle" class="tk">1</text>
<line x1="584.5" y1="380.1" x2="584.5" y2="381.9" stroke="#b8b8b8" stroke-width="0.8"/>
<text x="584.5" y="387.7" text-anchor="middle" class="tk">2</text>
<line x1="626.4" y1="380.1" x2="626.4" y2="381.9" stroke="#b8b8b8" stroke-width="0.8"/>
<text x="626.4" y="387.7" text-anchor="middle" class="tk">3</text>
<line x1="668.8" y1="380.1" x2="668.8" y2="381.9" stroke="#b8b8b8" stroke-width="0.8"/>
<text x="668.8" y="387.7" text-anchor="middle" class="tk">4</text>
<circle cx="482.1" cy="359.1" r="1.0"/>
<circle cx="482.1" cy="360.9" r="1.0"/>
<circle cx="482.1" cy="367.2" r="1.0"/>
<circle cx="482.1" cy="374.6" r="1.0"/>
<circle cx="485.1" cy="369" r="1.0"/>
<circle cx="485.6" cy="359.6" r="1.0"/>
<circle cx="489.9" cy="362.8" r="1.0"/>
<circle cx="494.8" cy="334.6" r="1.0"/>
<circle cx="484.7" cy="327.5" r="1.0"/>
<circle cx="605.8" cy="316.4" r="1.0"/>
<circle cx="608.4" cy="306.4" r="1.0"/>
<circle cx="609.2" cy="325.6" r="1.0"/>
<circle cx="612" cy="348.2" r="1.0"/>
<circle cx="617.1" cy="352.9" r="1.0"/>
<circle cx="622.4" cy="293.5" r="1.0"/>
<circle cx="625.6" cy="288.2" r="1.0"/>
<circle cx="629.1" cy="300.2" r="1.0"/>
<circle cx="635.6" cy="300.6" r="1.0"/>
<circle cx="639.7" cy="297" r="1.0"/>
<circle cx="646.2" cy="297" r="1.0"/>
<circle cx="655.9" cy="287.3" r="1.0"/>
<circle cx="657.7" cy="290" r="1.0"/>
<circle cx="659.1" cy="294.7" r="1.0"/>
<circle cx="670.5" cy="271.8" r="1.0"/>
<text x="594.9" y="394.4" text-anchor="end" class="lb" textLength="37.2" lengthAdjust="spacingAndGlyphs">rlog_RNAseq</text>
<text transform="translate(463.2,323.05) rotate(-90)" text-anchor="middle" class="lb" textLength="48.5" lengthAdjust="spacingAndGlyphs">logCNRQ_qPCR</text>
<text x="481.08" y="285.55" class="tt" style="font-size:14.03px" textLength="51.8" lengthAdjust="spacingAndGlyphs">DEG282</text>
<text x="484.3" y="303.3" class="rr" style="font-size:11.92px" textLength="41.4" lengthAdjust="spacingAndGlyphs">r = 0.88</text>
</svg></body></html>
